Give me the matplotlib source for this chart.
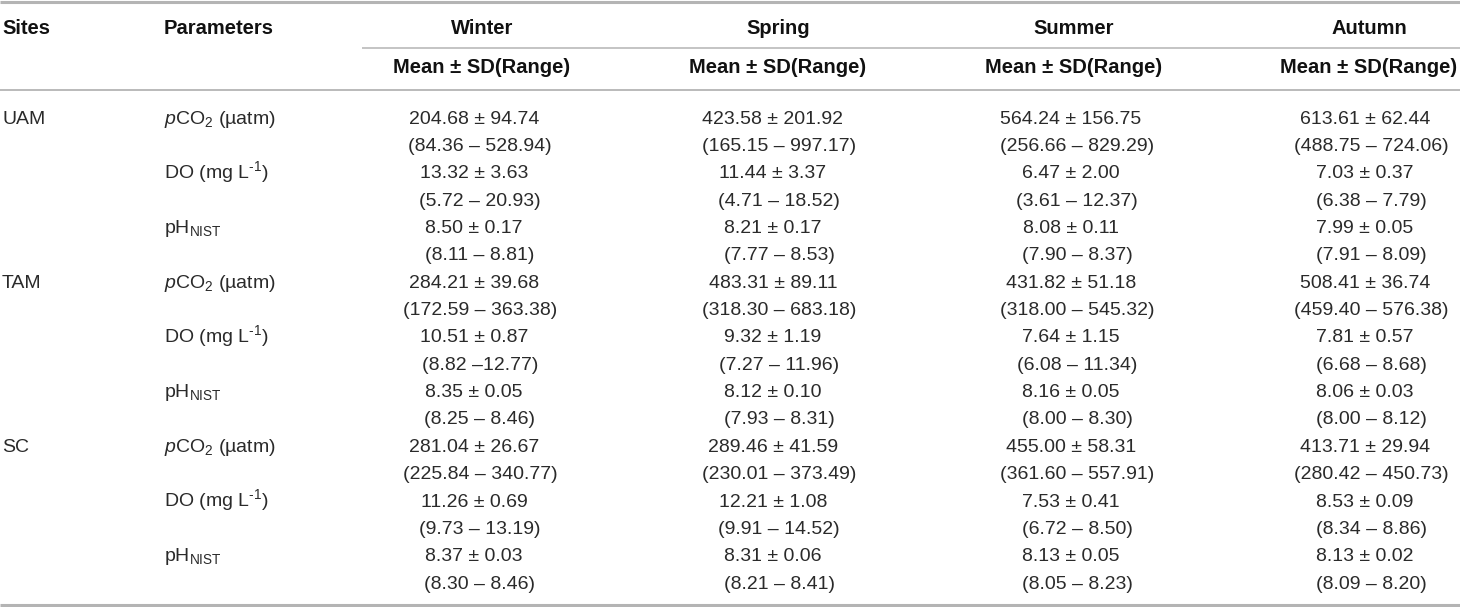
import matplotlib
matplotlib.use('Agg')
import matplotlib.pyplot as plt

plt.rcParams['font.family'] = ['Liberation Sans', 'DejaVu Sans']
plt.rcParams['mathtext.fontset'] = 'custom'
plt.rcParams['mathtext.rm'] = 'Liberation Sans'
plt.rcParams['mathtext.it'] = 'Liberation Sans:italic'
plt.rcParams['mathtext.bf'] = 'Liberation Sans:bold'

# data of the table
sites = ['UAM', 'TAM', 'SC']
parameters = [r'$\mathit{p}$CO$_2$ (µatm)', r'DO (mg L$^{\text{-}1}$)', r'pH$_{\mathrm{NIST}}$']
seasons = ['Winter', 'Spring', 'Summer', 'Autumn']
subheader = 'Mean ± SD(Range)'

# one entry per site/parameter: "mean ± sd", "(min – max)"
winter_mean = ['204.68 ± 94.74', '13.32 ± 3.63', '8.50 ± 0.17',
               '284.21 ± 39.68', '10.51 ± 0.87', '8.35 ± 0.05',
               '281.04 ± 26.67', '11.26 ± 0.69', '8.37 ± 0.03']
winter_range = ['(84.36 – 528.94)', '(5.72 – 20.93)', '(8.11 – 8.81)',
                '(172.59 – 363.38)', '(8.82 –12.77)', '(8.25 – 8.46)',
                '(225.84 – 340.77)', '(9.73 – 13.19)', '(8.30 – 8.46)']
spring_mean = ['423.58 ± 201.92', '11.44 ± 3.37', '8.21 ± 0.17',
               '483.31 ± 89.11', '9.32 ± 1.19', '8.12 ± 0.10',
               '289.46 ± 41.59', '12.21 ± 1.08', '8.31 ± 0.06']
spring_range = ['(165.15 – 997.17)', '(4.71 – 18.52)', '(7.77 – 8.53)',
                '(318.30 – 683.18)', '(7.27 – 11.96)', '(7.93 – 8.31)',
                '(230.01 – 373.49)', '(9.91 – 14.52)', '(8.21 – 8.41)']
summer_mean = ['564.24 ± 156.75', '6.47 ± 2.00', '8.08 ± 0.11',
               '431.82 ± 51.18', '7.64 ± 1.15', '8.16 ± 0.05',
               '455.00 ± 58.31', '7.53 ± 0.41', '8.13 ± 0.05']
summer_range = ['(256.66 – 829.29)', '(3.61 – 12.37)', '(7.90 – 8.37)',
                '(318.00 – 545.32)', '(6.08 – 11.34)', '(8.00 – 8.30)',
                '(361.60 – 557.91)', '(6.72 – 8.50)', '(8.05 – 8.23)']
autumn_mean = ['613.61 ± 62.44', '7.03 ± 0.37', '7.99 ± 0.05',
               '508.41 ± 36.74', '7.81 ± 0.57', '8.06 ± 0.03',
               '413.71 ± 29.94', '8.53 ± 0.09', '8.13 ± 0.02']
autumn_range = ['(488.75 – 724.06)', '(6.38 – 7.79)', '(7.91 – 8.09)',
                '(459.40 – 576.38)', '(6.68 – 8.68)', '(8.00 – 8.12)',
                '(280.42 – 450.73)', '(8.34 – 8.86)', '(8.09 – 8.20)']

means = [winter_mean, spring_mean, summer_mean, autumn_mean]
ranges = [winter_range, spring_range, summer_range, autumn_range]

# layout (pixels)
W, H = 1460, 607
head_x = [482, 778, 1074, 1369]
col_x = [477, 776, 1074, 1368]
row0 = 123.5
dy = 27.36
fs = 14
fs_head = 14.5
txt_col = '#2a2a2a'
line_col = '#b4b4b4'

fig = plt.figure(figsize=(W / 100, H / 100), dpi=100)
ax = fig.add_axes([0, 0, 1, 1])
ax.set_xlim(0, W)
ax.set_ylim(H, 0)
ax.axis('off')

# rules
ax.plot([0, W], [1.5, 1.5], color=line_col, lw=2.2, solid_capstyle='butt')
ax.plot([362, W], [48, 48], color=line_col, lw=1.1, solid_capstyle='butt')
ax.plot([0, W], [90, 90], color=line_col, lw=1.3, solid_capstyle='butt')
ax.plot([0, W], [604.5, 604.5], color=line_col, lw=2.2, solid_capstyle='butt')

# header
ax.text(2, 33.5, 'Sites', fontsize=fs_head, fontweight='bold', color='#111111', va='baseline')
ax.text(164, 33.5, 'Parameters', fontsize=fs_head, fontweight='bold', color='#111111', va='baseline')
for i, s in enumerate(seasons):
    ax.text(head_x[i], 33.5, s, fontsize=fs_head, fontweight='bold', color='#111111',
            ha='center', va='baseline')
    ax.text(head_x[i], 72.7, subheader, fontsize=fs_head, fontweight='bold', color='#111111',
            ha='center', va='baseline')

# body
for k in range(len(sites) * len(parameters)):
    y_mean = row0 + 2 * k * dy
    y_range = y_mean + dy
    if k % 3 == 0:
        ax.text(2, y_mean, sites[k // 3], fontsize=fs, color=txt_col, va='baseline')
    ax.text(164, y_mean, parameters[k % 3], fontsize=fs, color=txt_col, va='baseline')
    for j in range(len(seasons)):
        ax.text(col_x[j] - 3, y_mean, means[j][k], fontsize=fs, color=txt_col,
                ha='center', va='baseline')
        ax.text(col_x[j] + 3, y_range, ranges[j][k], fontsize=fs, color=txt_col,
                ha='center', va='baseline')

fig.savefig('out.png', dpi=100)
